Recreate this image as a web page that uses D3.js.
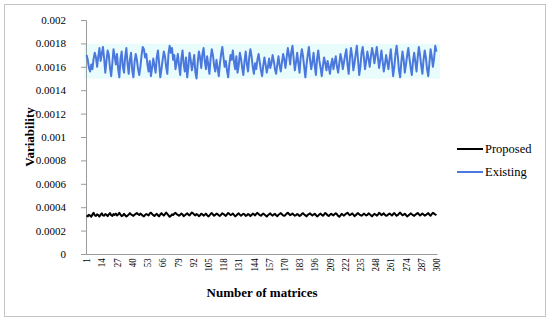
<!DOCTYPE html>
<meta charset="utf-8">
<title>Variability</title>
<script src="https://d3js.org/d3.v7.min.js"></script>
<style>
  body { margin: 0; background: #fff; }
  svg text { font-family: "Liberation Serif", "DejaVu Serif", serif; }
</style>
<body>
<svg id="chart" width="550" height="321"></svg>
</body>
<script>
// values
let matrices = d3.range(1, 301)
let xLabels = d3.range(1, 301, 13)
let yTicks = [0, 0.0002, 0.0004, 0.0006, 0.0008, 0.001, 0.0012, 0.0014, 0.0016, 0.0018, 0.002]

let existing = [
  0.00170,0.00166,0.00159,0.00156,0.00162,0.00158,0.00167,0.00172,0.00168,0.00160,0.00169,0.00176,0.00165,0.00171,0.00177,0.00167,0.00155,0.00165,0.00174,0.00170,
  0.00159,0.00152,0.00163,0.00175,0.00169,0.00162,0.00171,0.00158,0.00151,0.00167,0.00173,0.00160,0.00155,0.00169,0.00176,0.00163,0.00154,0.00166,0.00172,0.00157,
  0.00151,0.00164,0.00171,0.00166,0.00158,0.00153,0.00160,0.00170,0.00177,0.00175,0.00168,0.00171,0.00162,0.00156,0.00165,0.00152,0.00159,0.00167,0.00161,0.00155,
  0.00168,0.00174,0.00163,0.00151,0.00158,0.00166,0.00173,0.00169,0.00160,0.00154,0.00171,0.00178,0.00172,0.00176,0.00166,0.00170,0.00158,0.00164,0.00171,0.00161,
  0.00153,0.00167,0.00174,0.00162,0.00156,0.00168,0.00151,0.00160,0.00172,0.00166,0.00157,0.00163,0.00170,0.00155,0.00150,0.00164,0.00173,0.00168,0.00159,0.00171,
  0.00176,0.00165,0.00158,0.00169,0.00162,0.00154,0.00167,0.00175,0.00170,0.00161,0.00156,0.00166,0.00159,0.00152,0.00163,0.00171,0.00177,0.00168,0.00160,0.00165,
  0.00157,0.00151,0.00162,0.00170,0.00166,0.00174,0.00164,0.00158,0.00169,0.00155,0.00161,0.00172,0.00167,0.00159,0.00153,0.00165,0.00173,0.00162,0.00156,0.00168,
  0.00175,0.00169,0.00160,0.00154,0.00163,0.00158,0.00166,0.00171,0.00164,0.00157,0.00152,0.00161,0.00168,0.00162,0.00155,0.00160,0.00167,0.00159,0.00163,0.00170,
  0.00165,0.00158,0.00154,0.00162,0.00169,0.00161,0.00156,0.00164,0.00171,0.00166,0.00159,0.00168,0.00176,0.00170,0.00162,0.00173,0.00178,0.00167,0.00157,0.00164,
  0.00172,0.00163,0.00155,0.00168,0.00175,0.00169,0.00160,0.00151,0.00162,0.00170,0.00177,0.00166,0.00158,0.00164,0.00172,0.00161,0.00153,0.00167,0.00174,0.00165,
  0.00159,0.00152,0.00161,0.00168,0.00163,0.00157,0.00165,0.00160,0.00154,0.00162,0.00167,0.00158,0.00164,0.00169,0.00160,0.00155,0.00163,0.00171,0.00166,0.00158,
  0.00164,0.00170,0.00175,0.00162,0.00154,0.00167,0.00176,0.00169,0.00157,0.00163,0.00171,0.00178,0.00166,0.00153,0.00160,0.00172,0.00177,0.00168,0.00158,0.00165,
  0.00173,0.00167,0.00160,0.00169,0.00176,0.00171,0.00163,0.00170,0.00177,0.00168,0.00159,0.00166,0.00174,0.00165,0.00156,0.00162,0.00170,0.00164,0.00158,0.00167,
  0.00175,0.00163,0.00152,0.00160,0.00171,0.00178,0.00169,0.00157,0.00151,0.00164,0.00173,0.00166,0.00155,0.00162,0.00170,0.00176,0.00167,0.00159,0.00153,0.00165,
  0.00172,0.00164,0.00156,0.00168,0.00177,0.00170,0.00161,0.00154,0.00166,0.00174,0.00168,0.00158,0.00152,0.00163,0.00175,0.00169,0.00160,0.00167,0.00178,0.00173
]

let proposed = [
  0.000330,0.000322,0.000335,0.000328,0.000318,0.000338,0.000352,0.000331,0.000325,0.000340,0.000333,0.000320,0.000336,0.000348,0.000330,0.000327,0.000342,0.000335,0.000324,0.000339,
  0.000350,0.000332,0.000326,0.000341,0.000334,0.000345,0.000329,0.000338,0.000352,0.000336,0.000323,0.000330,0.000344,0.000331,0.000320,0.000328,0.000337,0.000349,0.000339,0.000332,
  0.000326,0.000335,0.000343,0.000351,0.000340,0.000333,0.000345,0.000338,0.000327,0.000321,0.000334,0.000342,0.000336,0.000329,0.000347,0.000353,0.000341,0.000332,0.000325,0.000336,
  0.000344,0.000330,0.000322,0.000338,0.000349,0.000337,0.000328,0.000341,0.000354,0.000343,0.000331,0.000318,0.000326,0.000339,0.000333,0.000345,0.000352,0.000340,0.000334,0.000327,
  0.000335,0.000346,0.000338,0.000324,0.000331,0.000340,0.000348,0.000336,0.000329,0.000343,0.000355,0.000347,0.000337,0.000330,0.000342,0.000335,0.000323,0.000332,0.000344,0.000339,
  0.000328,0.000336,0.000345,0.000333,0.000321,0.000330,0.000341,0.000350,0.000338,0.000327,0.000334,0.000346,0.000340,0.000331,0.000325,0.000337,0.000348,0.000342,0.000333,0.000326,
  0.000339,0.000351,0.000343,0.000332,0.000337,0.000345,0.000334,0.000322,0.000329,0.000340,0.000347,0.000336,0.000328,0.000335,0.000344,0.000338,0.000326,0.000331,0.000342,0.000336,
  0.000324,0.000333,0.000346,0.000339,0.000330,0.000343,0.000352,0.000341,0.000333,0.000327,0.000338,0.000345,0.000337,0.000329,0.000320,0.000332,0.000340,0.000348,0.000335,0.000328,
  0.000337,0.000344,0.000331,0.000323,0.000335,0.000342,0.000350,0.000339,0.000330,0.000326,0.000334,0.000345,0.000353,0.000341,0.000332,0.000338,0.000346,0.000335,0.000327,0.000333,
  0.000341,0.000336,0.000325,0.000331,0.000343,0.000349,0.000338,0.000330,0.000322,0.000334,0.000340,0.000347,0.000336,0.000329,0.000337,0.000344,0.000333,0.000321,0.000328,0.000339,
  0.000345,0.000334,0.000327,0.000338,0.000351,0.000342,0.000331,0.000325,0.000336,0.000344,0.000337,0.000330,0.000341,0.000348,0.000339,0.000326,0.000318,0.000330,0.000343,0.000335,
  0.000328,0.000337,0.000346,0.000353,0.000340,0.000332,0.000338,0.000347,0.000336,0.000324,0.000331,0.000342,0.000350,0.000339,0.000333,0.000327,0.000336,0.000345,0.000338,0.000329,
  0.000335,0.000348,0.000341,0.000330,0.000322,0.000334,0.000343,0.000337,0.000328,0.000336,0.000352,0.000344,0.000332,0.000339,0.000347,0.000335,0.000326,0.000331,0.000340,0.000346,
  0.000337,0.000329,0.000341,0.000350,0.000338,0.000327,0.000333,0.000345,0.000354,0.000342,0.000331,0.000336,0.000344,0.000333,0.000321,0.000329,0.000338,0.000347,0.000340,0.000332,
  0.000326,0.000335,0.000343,0.000351,0.000339,0.000330,0.000337,0.000346,0.000338,0.000328,0.000334,0.000342,0.000349,0.000336,0.000327,0.000340,0.000352,0.000345,0.000338,0.000331
]

let series = [
  { name: "Proposed", values: proposed, color: "#000000" },
  { name: "Existing", values: existing, color: "#4b78dc" }
]

let svg = d3.select("#chart")

// outer chart frame
svg.append("rect")
  .attr("x", 4.5).attr("y", 4.5)
  .attr("width", 541).attr("height", 312)
  .attr("fill", "#fff")
  .attr("stroke", "#c4c4c4")

let x = d3.scaleBand().domain(matrices).range([86, 437])
let y = d3.scaleLinear().domain([0, 0.002]).range([254, 20])

// faint cyan glow behind the existing series
let ext = d3.extent(existing)
svg.append("rect")
  .attr("x", 84).attr("width", 356)
  .attr("y", y(ext[1]) - 2)
  .attr("height", y(ext[0]) - y(ext[1]) + 2)
  .attr("fill", "#e8fcfc")

let yAxis = svg.append("g")
  .attr("transform", "translate(86,0)")
  .call(d3.axisLeft(y)
    .tickValues(yTicks)
    .tickSize(5)
    .tickPadding(15)
    .tickFormat(d => d === 0 ? "0" : String(+d.toFixed(4))))
yAxis.attr("font-family", null)
yAxis.select(".domain").attr("stroke", "#9a9a9a")
yAxis.selectAll(".tick line").attr("stroke", "#9a9a9a")
yAxis.selectAll("text")
  .attr("font-size", 11)
  .attr("fill", "#000")

let xAxis = svg.append("g")
  .attr("transform", "translate(0,254)")
  .call(d3.axisBottom(x).tickValues(xLabels).tickSize(0))
xAxis.attr("font-family", null)
xAxis.select(".domain").attr("stroke", "#9a9a9a")
xAxis.selectAll("text")
  .attr("font-size", 10.5)
  .attr("fill", "#000")
  .attr("text-anchor", "end")
  .attr("transform", "rotate(-90) scale(0.85,1)")
  .attr("x", -5)
  .attr("y", 0)
  .attr("dy", "0.35em")

let line = d3.line()
  .x((d, i) => x(matrices[i]) + x.bandwidth() / 2)
  .y(d => y(d))

svg.selectAll(".series")
  .data(series)
  .enter()
  .append("path")
  .attr("class", "series")
  .attr("d", d => line(d.values))
  .attr("fill", "none")
  .attr("stroke", d => d.color)
  .attr("stroke-width", 2)
  .attr("stroke-linejoin", "round")

// legend
let legend = svg.selectAll(".legend")
  .data(series)
  .enter()
  .append("g")
  .attr("class", "legend")
  .attr("transform", (d, i) => `translate(457,${149 + i * 23})`)

legend.append("line")
  .attr("x1", 0).attr("x2", 26)
  .attr("stroke", d => d.color)
  .attr("stroke-width", 2)

legend.append("text")
  .attr("x", 28)
  .attr("dy", "0.32em")
  .attr("font-size", 12.5)
  .text(d => d.name)

// axis titles
svg.append("text")
  .attr("x", 262).attr("y", 297)
  .attr("text-anchor", "middle")
  .attr("font-weight", "bold")
  .attr("font-size", 13)
  .text("Number of matrices")

svg.append("text")
  .attr("transform", "translate(34,137) rotate(-90)")
  .attr("text-anchor", "middle")
  .attr("font-weight", "bold")
  .attr("font-size", 13)
  .text("Variability")
</script>
